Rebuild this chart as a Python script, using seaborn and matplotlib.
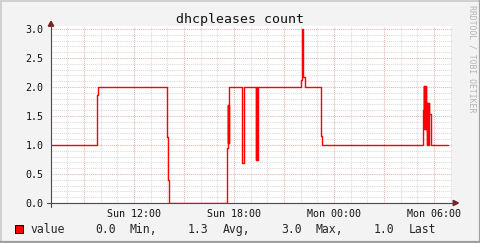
import matplotlib
matplotlib.use("Agg")
import matplotlib.pyplot as plt
import seaborn as sns
import pandas as pd
from matplotlib.patches import Rectangle, Polygon
from matplotlib.lines import Line2D
from matplotlib.ticker import MultipleLocator, FixedLocator, FuncFormatter

# ---- data (hours since Sunday 00:00, step values) ----
hours = [7.0, 9.76, 9.82, 13.96, 14.02, 14.08,
         17.56, 17.62, 17.64, 17.66, 17.68, 17.70, 17.72,
         18.46, 18.58,
         19.32, 19.34, 19.36, 19.38, 19.40, 19.42,
         22.00, 22.06, 22.16, 22.26,
         23.20, 23.26,
         29.34, 29.38, 29.40, 29.42, 29.44, 29.46, 29.48, 29.50, 29.52,
         29.56, 29.58, 29.60, 29.62, 29.64, 29.66, 29.68,
         29.70, 29.80, 30.84]
values = [1.0, 1.86, 2.0, 1.14, 0.40, 0.0,
          0.95, 1.69, 1.04, 1.69, 1.04, 1.69, 2.0,
          0.69, 2.0,
          0.75, 2.0, 0.75, 2.0, 0.75, 2.0,
          2.12, 3.0, 2.17, 2.0,
          1.16, 1.0,
          1.60, 2.02, 1.28, 2.02, 1.28, 2.02, 1.28, 2.02, 1.28,
          1.73, 1.0, 1.73, 1.0, 1.73, 1.0, 1.73,
          1.53, 1.0, 1.0]

label_hours = [12, 18, 24, 30]
label_texts = ["Sun 12:00", "Sun 18:00", "Mon 00:00", "Mon 06:00"]
y_ticks = [0.0, 0.5, 1.0, 1.5, 2.0, 2.5, 3.0]

title = "dhcpleases count"
series_name = "value"
stat_values = ["0.0", "1.3", "3.0", "1.0"]
stat_names = ["Min,", "Avg,", "Max,", "Last"]
watermark = "RRDTOOL / TOBI OETIKER"

# ---- figure ----
W, H = 481, 243
MONO = "DejaVu Sans Mono"
sns.set_style("white")
plt.rcParams["font.family"] = [MONO]

fig = plt.figure(figsize=(W / 100, H / 100), dpi=100)
fig.patch.set_facecolor("#F3F3F3")

def fx(px):
    return px / W

def fy(py):
    return 1 - py / H

ax = fig.add_axes([fx(51), fy(203), fx(452) - fx(51), fy(26) - fy(203)])
ax.set_facecolor("white")

df = pd.DataFrame({"hour": hours, "value": values})
sns.lineplot(data=df, x="hour", y="value", ax=ax, color="#FF0000",
             drawstyle="steps-post", estimator=None, sort=False,
             linewidth=1.0, zorder=5, legend=False)

ax.set_xlim(7.02, 7.02 + 401 * 0.06)
ax.set_ylim(0, 177 / 58)

ax.xaxis.set_major_locator(MultipleLocator(3))
ax.xaxis.set_minor_locator(MultipleLocator(1))
lab_map = dict(zip(label_hours, label_texts))
ax.xaxis.set_major_formatter(FuncFormatter(lambda v, p: lab_map.get(int(round(v)), "")))
ax.yaxis.set_major_locator(FixedLocator(y_ticks))
ax.yaxis.set_minor_locator(MultipleLocator(0.1))
ax.yaxis.set_major_formatter(FuncFormatter(lambda v, p: f"{v:.1f}"))

ax.set_axisbelow(True)
ax.grid(which="minor", color="#DADADA", linestyle=(0, (1, 1)), linewidth=0.75)
ax.grid(which="major", color="#E6B2B2", linestyle=(0, (1, 1)), linewidth=0.75)

for s in ax.spines.values():
    s.set_visible(False)

ax.tick_params(axis="x", which="major", direction="out", length=2.2, width=0.7,
               color="#606060", labelsize=7.2, pad=1.8, labelcolor="#111111")
ax.tick_params(axis="x", which="minor", length=0)
ax.tick_params(axis="y", which="both", direction="out", length=1.5, width=0.7,
               color="#606060", labelsize=7.2, pad=4.0, labelcolor="#111111")
ax.set_xlabel("")
ax.set_ylabel("")

# axis lines with arrows
axis_col = "#4A4A4A"
arrow_col = "#7F1F1F"
fig.add_artist(Line2D([fx(51), fx(51)], [fy(206.5), fy(25)], color=axis_col,
                      lw=0.8, transform=fig.transFigure))
fig.add_artist(Line2D([fx(46.5), fx(454)], [fy(203), fy(203)], color=axis_col,
                      lw=0.8, transform=fig.transFigure))
fig.add_artist(Polygon([[fx(48.3), fy(26.2)], [fx(53.7), fy(26.2)], [fx(51), fy(21.3)]],
                       closed=True, color=arrow_col, transform=fig.transFigure))
fig.add_artist(Polygon([[fx(453.2), fy(200.4)], [fx(453.2), fy(205.6)], [fx(458.4), fy(203)]],
                       closed=True, color=arrow_col, transform=fig.transFigure))

# title
fig.text(fx(240), fy(19), title, ha="center", va="center", fontsize=9.5,
         family=MONO, color="#111111")

# watermark
fig.text(fx(472.5), fy(59), watermark, ha="center", va="center", rotation=270,
         fontsize=5.9, family=MONO, color="#B4B4B4")

# legend
fig.add_artist(Rectangle((fx(15.5), fy(233)), fx(8), 8 / H, facecolor="#FF0000",
                         edgecolor="black", lw=0.7, transform=fig.transFigure))
ly = fy(229)
fig.text(fx(30), ly, series_name, ha="left", va="center", fontsize=8.3, family=MONO)
val_x = [95, 188, 281, 374]
name_x = [129, 223, 316, 409]
for v, n, vx, nx in zip(stat_values, stat_names, val_x, name_x):
    fig.text(fx(vx), ly, v, ha="left", va="center", fontsize=8.3, family=MONO)
    fig.text(fx(nx), ly, n, ha="left", va="center", fontsize=8.3, family=MONO)

# border (3D-ish)
fig.add_artist(Line2D([0, 1], [fy(0.7), fy(0.7)], color="#D0D0D0", lw=1.4, transform=fig.transFigure))
fig.add_artist(Line2D([fx(0.7), fx(0.7)], [0, 1], color="#D0D0D0", lw=1.4, transform=fig.transFigure))
fig.add_artist(Line2D([0, 1], [fy(241.8), fy(241.8)], color="#A0A0A0", lw=1.6, transform=fig.transFigure))
fig.add_artist(Line2D([fx(479.8), fx(479.8)], [0, 1], color="#A0A0A0", lw=1.6, transform=fig.transFigure))

fig.savefig("out.png", dpi=100, facecolor=fig.get_facecolor())
